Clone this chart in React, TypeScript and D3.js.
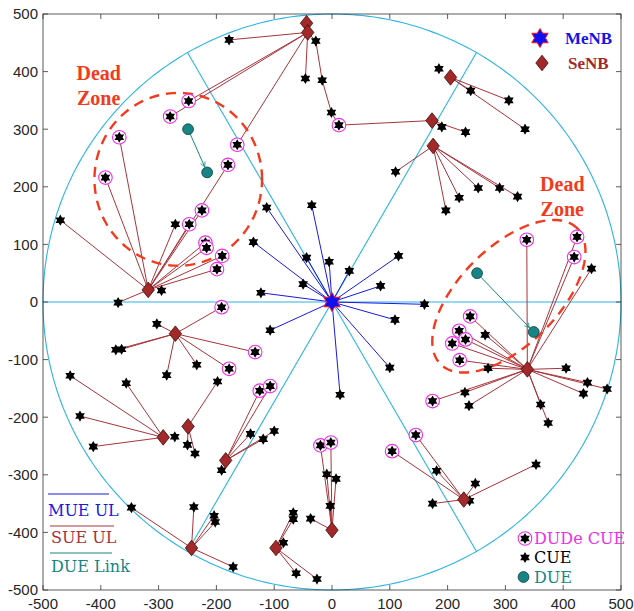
import React from 'react';
import * as d3 from 'd3';

// ---------- data ----------
const xTicks = [-500, -400, -300, -200, -100, 0, 100, 200, 300, 400, 500];
const yTicks = [-500, -400, -300, -200, -100, 0, 100, 200, 300, 400, 500];
const cellRadius = 500;
const sectorAngles = [0, 60, 120, 180, 240, 300];

const menb: [number, number] = [0, 0];

// UEs served by MeNB (MUE UL, blue)
const mueList: [number, number][] = [
  [-113, 164], [-35, 168], [-136, 104], [-44, 77], [-5, 70], [30, 54], [115, 80],
  [-50, 31], [84, 28], [-123, 16], [160, -4], [109, -31], [-107, -49], [100, -114], [14, -161],
];

// SeNBs
const senbNames = ['A', 'B', 'C', 'D', 'E', 'F', 'G', 'H', 'I', 'J', 'K', 'L', 'M', 'N', 'O'];
const senbX = [-44, -42, -318, 173, 205, 175, 338, -271, -292, -249, -184, -243, -97, 228, 0];
const senbY = [484, 468, 21, 315, 390, 271, -117, -55, -235, -216, -275, -427, -427, -343, -396];

// UEs served by SeNBs: [id, x, y, kind (c = CUE, d = DUDe CUE), links ('|' separated: SeNB name or UE id)]
const sueList: [string, number, number, string, string][] = [
  // SeNB A/B (top)
  ['b1', -178, 455, 'c', 'B'],
  ['t1', -28, 453, 'c', 'B'],
  ['b2', -46, 388, 'c', 'B'],
  ['t2', -17, 385, 'c', 't1'],
  ['t3', -1, 329, 'c', 't2'],
  ['t4', 12, 307, 'd', 't3|D'],
  ['b3', -248, 349, 'd', 'B'],
  ['b4', -280, 322, 'd', 'B'],
  ['b5', -164, 273, 'd', 'B'],
  // SeNB C
  ['c1', -368, 286, 'd', 'C'],
  ['c2', -392, 216, 'd', 'C'],
  ['c3', -470, 142, 'c', 'C'],
  ['c4', -271, 135, 'c', 'C'],
  ['c5', -247, 135, 'd', 'C'],
  ['c6', -225, 159, 'd', 'C'],
  ['c7', -180, 238, 'd', 'C'],
  ['c8', -219, 103, 'd', 'C'],
  ['c9', -217, 94, 'd', 'C'],
  ['c10', -190, 80, 'd', 'C'],
  ['c11', -199, 57, 'd', 'C'],
  ['c12', -370, -1, 'c', 'C'],
  ['c13', -295, 20, 'c', ''],
  // SeNB D
  ['d1', 190, 304, 'c', 'D'],
  ['d2', 231, 295, 'c', 'D'],
  // SeNB E
  ['e0', 185, 405, 'c', ''],
  ['e1', 240, 367, 'c', 'E'],
  ['e2', 306, 350, 'c', 'E'],
  ['e3', 334, 300, 'c', 'E'],
  // SeNB F
  ['f1', 110, 226, 'c', 'F'],
  ['f2', 220, 181, 'c', 'F'],
  ['f3', 197, 159, 'c', 'F'],
  ['f4', 253, 198, 'c', 'F'],
  ['f5', 290, 198, 'c', 'F'],
  ['f6', 321, 183, 'c', 'F'],
  // SeNB G
  ['g1', 337, 108, 'd', 'G'],
  ['g2', 424, 113, 'd', 'G'],
  ['g3', 419, 78, 'd', 'G'],
  ['g4', 449, 58, 'c', 'G'],
  ['g5', 239, -25, 'd', 'G'],
  ['g6', 220, -50, 'd', 'G'],
  ['g7', 231, -65, 'd', 'G'],
  ['g8', 208, -72, 'd', 'G'],
  ['g9', 265, -57, 'c', 'G'],
  ['g10', 221, -101, 'd', 'G'],
  ['g11', 270, -115, 'c', 'G'],
  ['g12', 405, -115, 'c', 'G'],
  ['g13', 442, -140, 'c', 'G'],
  ['g14', 435, -159, 'c', 'G'],
  ['g15', 476, -151, 'c', 'G'],
  ['g16', 230, -157, 'c', 'G'],
  ['g17', 174, -172, 'd', 'G'],
  ['g18', 237, -180, 'c', 'G'],
  ['g19', 361, -178, 'c', 'G'],
  ['g20', 374, -210, 'c', 'G'],
  // SeNB H
  ['h1', -191, -9, 'd', 'H'],
  ['h2', -303, -38, 'c', 'H'],
  ['h3', -374, -83, 'c', 'H'],
  ['h4', -364, -82, 'c', 'H'],
  ['h5', -133, -87, 'd', 'H'],
  ['h6', -234, -109, 'c', 'H'],
  ['h7', -178, -116, 'd', 'H'],
  ['h8', -286, -127, 'c', 'H'],
  // SeNB I
  ['i1', -453, -128, 'c', 'I'],
  ['i2', -356, -141, 'c', 'I'],
  ['i3', -436, -198, 'c', 'I'],
  ['i4', -413, -251, 'c', 'I'],
  ['i5', -272, -234, 'c', ''],
  // SeNB J
  ['j1', -198, -138, 'c', 'J'],
  ['j2', -250, -248, 'c', 'J'],
  ['j3', -237, -263, 'c', 'J'],
  // SeNB K
  ['k1', -125, -154, 'd', 'K'],
  ['k2', -107, -146, 'd', 'K'],
  ['k3', -141, -229, 'c', 'K'],
  ['k4', -119, -238, 'c', 'K'],
  ['k5', -100, -224, 'c', 'K'],
  ['k6', -191, -292, 'c', ''],
  // SeNB L
  ['l1', -347, -357, 'c', 'L'],
  ['l2', -239, -356, 'c', 'L'],
  ['l3', -204, -371, 'c', 'L'],
  ['l4', -202, -382, 'c', 'L'],
  ['l5', -171, -460, 'c', 'L'],
  // SeNB M
  ['m0', -84, -418, 'c', ''],
  ['m1', -67, -366, 'c', 'M'],
  ['m2', -67, -377, 'c', 'M'],
  ['m3', -62, -471, 'c', 'M'],
  ['m4', -26, -481, 'c', 'M'],
  // SeNB O
  ['o1', -20, -249, 'd', 'O'],
  ['o2', -2, -244, 'd', 'O'],
  ['o3', -9, -299, 'c', 'O'],
  ['o4', 7, -307, 'c', 'O'],
  ['o5', -3, -354, 'c', 'O'],
  ['o6', -37, -376, 'c', 'O'],
  // SeNB N
  ['n1', 145, -231, 'd', 'N'],
  ['n2', 104, -259, 'd', 'N'],
  ['n3', 181, -293, 'c', 'N'],
  ['n4', 248, -315, 'c', 'N'],
  ['n5', 353, -282, 'c', 'N'],
  ['n6', 174, -350, 'c', 'N'],
  ['n7', 238, -345, 'c', ''],
];

// D2D pairs (DUE Link): [x1, y1, x2, y2]
const duePairs: [number, number, number, number][] = [
  [-249, 300, -216, 225],
  [251, 50, 349, -52],
];

// Dead zones: [cx, cy, rx, ry, rotation deg]
const deadZones: [number, number, number, number, number][] = [
  [-266, 213, 145, 150, 0],
  [306, 10, 167, 85, 45],
];
const deadZoneLabels: [number, number][] = [
  [-442, 385],
  [360, 193],
];

// ---------- styles ----------
const C_CYAN = '#2db4e2';
const C_BLUE = '#1a1adf';
const C_RED = '#a8343a';
const C_SENB = '#a3282a';
const C_TEAL = '#178585';
const C_DEAD = '#f23a1e';
const C_MAG = '#ee2ee8';
const AX = '#333333';

const hexagram = (R: number) => {
  const r = R / Math.sqrt(3);
  const pts: [number, number][] = [];
  for (let k = 0; k < 12; k++) {
    const a = (k * 30 - 90) * Math.PI / 180;
    const rr = k % 2 === 0 ? R : r;
    pts.push([rr * Math.cos(a), rr * Math.sin(a)]);
  }
  return 'M' + pts.map(p => p[0].toFixed(2) + ',' + p[1].toFixed(2)).join('L') + 'Z';
};
const diamond = (hw: number, hh: number) => `M0,${-hh}L${hw},0L0,${hh}L${-hw},0Z`;

const STAR = hexagram(5.6);
const BIGSTAR = hexagram(9.5);
const DIAMOND = diamond(6.2, 7.8);

export default function App() {
  const left = 43, right = 621, top = 14, bottom = 590;
  const x = d3.scaleLinear().domain([-500, 500]).range([left, right]);
  const y = d3.scaleLinear().domain([-500, 500]).range([bottom, top]);

  const senbPos: Record<string, [number, number]> = {};
  senbNames.forEach((n, i) => { senbPos[n] = [senbX[i], senbY[i]]; });
  const uePos: Record<string, [number, number]> = {};
  sueList.forEach(u => { uePos[u[0]] = [u[1], u[2]]; });

  const redLinks: [number, number, number, number][] = [];
  sueList.forEach(u => {
    if (!u[4]) return;
    u[4].split('|').forEach(t => {
      const p = senbPos[t] || uePos[t];
      if (p) redLinks.push([u[1], u[2], p[0], p[1]]);
    });
  });

  const circlePath = d3.line<number>()
    .x(t => x(cellRadius * Math.cos(t)))
    .y(t => y(cellRadius * Math.sin(t)))
    .curve(d3.curveLinearClosed)(d3.range(0, 2 * Math.PI, Math.PI / 180));

  const ellipsePath = (z: [number, number, number, number, number]) => {
    const [cx, cy, rx, ry, rot] = z;
    const th = rot * Math.PI / 180;
    return d3.line<number>()
      .x(t => x(cx + rx * Math.cos(t) * Math.cos(th) - ry * Math.sin(t) * Math.sin(th)))
      .y(t => y(cy + rx * Math.cos(t) * Math.sin(th) + ry * Math.sin(t) * Math.cos(th)))
      .curve(d3.curveLinearClosed)(d3.range(0, 2 * Math.PI, Math.PI / 90));
  };

  const tickLen = 5;
  const sans = '"Liberation Sans", Arial, Helvetica, sans-serif';
  const serif = '"Liberation Serif", "Times New Roman", serif';
  const serif2 = '"DejaVu Serif", "Liberation Serif", serif';

  return (
    <svg width={634} height={611} style={{ position: 'absolute', left: 0, top: 0, background: '#fff' }}>
      <defs>
        <marker id="arr" viewBox="0 0 10 10" refX="9" refY="5" markerWidth="6" markerHeight="6" orient="auto">
          <path d="M1,1L9,5L1,9" fill="none" stroke={C_TEAL} strokeWidth={1.3} />
        </marker>
      </defs>

      {/* cell boundary */}
      <path d={circlePath || ''} fill="none" stroke={C_CYAN} strokeWidth={1.1} />
      {sectorAngles.map(a => (
        <line key={a} x1={x(0)} y1={y(0)}
          x2={x(cellRadius * Math.cos(a * Math.PI / 180))}
          y2={y(cellRadius * Math.sin(a * Math.PI / 180))}
          stroke={C_CYAN} strokeWidth={1.1} />
      ))}

      {/* MUE UL links */}
      {mueList.map((p, i) => (
        <line key={'m' + i} x1={x(p[0])} y1={y(p[1])} x2={x(menb[0])} y2={y(menb[1])}
          stroke={C_BLUE} strokeWidth={1} />
      ))}
      {/* SUE UL links */}
      {redLinks.map((l, i) => (
        <line key={'r' + i} x1={x(l[0])} y1={y(l[1])} x2={x(l[2])} y2={y(l[3])}
          stroke={C_RED} strokeWidth={1} />
      ))}
      {/* DUE links */}
      {duePairs.map((d, i) => {
        const x1 = x(d[0]), y1 = y(d[1]), x2 = x(d[2]), y2 = y(d[3]);
        const L = Math.hypot(x2 - x1, y2 - y1);
        const k = (L - 6) / L;
        return (
          <line key={'d' + i} x1={x1} y1={y1} x2={x1 + (x2 - x1) * k} y2={y1 + (y2 - y1) * k}
            stroke={C_TEAL} strokeWidth={1} markerEnd="url(#arr)" />
        );
      })}

      {/* dead zones */}
      {deadZones.map((z, i) => (
        <path key={'z' + i} d={ellipsePath(z) || ''} fill="none" stroke={C_DEAD}
          strokeWidth={2.4} strokeDasharray="10,7" />
      ))}

      {/* UE markers */}
      {mueList.map((p, i) => (
        <path key={'ms' + i} d={STAR} transform={`translate(${x(p[0])},${y(p[1])})`} fill="#000" />
      ))}
      {sueList.map(u => (
        <g key={u[0]} transform={`translate(${x(u[1])},${y(u[2])})`}>
          {u[3] === 'd' && <circle r={6.8} fill="#fff" stroke={C_MAG} strokeWidth={1.1} />}
          <path d={STAR} fill="#000" />
        </g>
      ))}
      {duePairs.map((d, i) => (
        <g key={'due' + i}>
          <circle cx={x(d[0])} cy={y(d[1])} r={5.4} fill={C_TEAL} stroke="#0b3b3b" strokeWidth={0.8} />
          <circle cx={x(d[2])} cy={y(d[3])} r={5.4} fill={C_TEAL} stroke="#0b3b3b" strokeWidth={0.8} />
        </g>
      ))}

      {/* SeNBs */}
      {senbNames.map((n, i) => (
        <path key={n} d={DIAMOND} transform={`translate(${x(senbX[i])},${y(senbY[i])})`}
          fill={C_SENB} stroke="#3b0c0c" strokeWidth={0.8} />
      ))}
      {/* MeNB */}
      <path d={BIGSTAR} transform={`translate(${x(menb[0])},${y(menb[1])})`} fill="#1010f0" stroke="#ff1a1a" strokeWidth={1} />

      {/* Dead zone labels */}
      {deadZoneLabels.map((p, i) => (
        <text key={'dz' + i} x={x(p[0])} y={y(p[1])} fill={C_DEAD} fontFamily={serif}
          fontWeight="bold" fontSize={20}>
          <tspan x={x(p[0])}>Dead</tspan>
          <tspan x={x(p[0]) + 0.5} dy={25}>Zone</tspan>
        </text>
      ))}

      {/* axes box */}
      <rect x={left} y={top} width={right - left} height={bottom - top} fill="none" stroke={AX} strokeWidth={0.8} />
      {xTicks.map(t => (
        <g key={'xt' + t}>
          <line x1={x(t)} x2={x(t)} y1={bottom} y2={bottom - tickLen} stroke={AX} strokeWidth={0.8} />
          <line x1={x(t)} x2={x(t)} y1={top} y2={top + tickLen} stroke={AX} strokeWidth={0.8} />
          <text x={x(t)} y={bottom + 19} textAnchor="middle" fontFamily={sans} fontSize={15} fill="#262626">{t}</text>
        </g>
      ))}
      {yTicks.map(t => (
        <g key={'yt' + t}>
          <line x1={left} x2={left + tickLen} y1={y(t)} y2={y(t)} stroke={AX} strokeWidth={0.8} />
          <line x1={right} x2={right - tickLen} y1={y(t)} y2={y(t)} stroke={AX} strokeWidth={0.8} />
          <text x={left - 5} y={y(t) + 5.3} textAnchor="end" fontFamily={sans} fontSize={15} fill="#262626">{t}</text>
        </g>
      ))}

      {/* legend top-right */}
      <path d={BIGSTAR} transform="translate(540,38)" fill="#1010f0" stroke="#ff1a1a" strokeWidth={1} />
      <text x={565} y={44} fontFamily={serif} fontWeight="bold" fontSize={17} fill="#1414e6">MeNB</text>
      <path d={DIAMOND} transform="translate(542,63)" fill={C_SENB} stroke="#3b0c0c" strokeWidth={0.8} />
      <text x={568} y={69} fontFamily={serif} fontWeight="bold" fontSize={17} fill={C_SENB}>SeNB</text>

      {/* legend bottom-left */}
      <line x1={48} x2={109} y1={494} y2={494} stroke={C_BLUE} strokeWidth={1.2} />
      <text x={48} y={516} fontFamily={serif2} fontSize={16} fill={C_BLUE}>MUE UL</text>
      <line x1={50} x2={114} y1={526} y2={526} stroke={C_RED} strokeWidth={1.2} />
      <text x={51} y={543} fontFamily={serif2} fontSize={16} fill={C_RED}>SUE UL</text>
      <line x1={50} x2={112} y1={553} y2={553} stroke={C_TEAL} strokeWidth={1.2} />
      <text x={51} y={572} fontFamily={serif2} fontSize={16} fill={C_TEAL}>DUE Link</text>

      {/* legend bottom-right */}
      <g transform="translate(525,538.5)">
        <circle r={6.8} fill="#fff" stroke={C_MAG} strokeWidth={1.1} />
        <path d={STAR} fill="#000" />
      </g>
      <text x={534} y={544} fontFamily={serif2} fontSize={16} fill={C_MAG}>DUDe CUE</text>
      <path d={STAR} transform="translate(525,557.5)" fill="#000" />
      <text x={534} y={563} fontFamily={serif2} fontSize={16} fill="#000">CUE</text>
      <circle cx={523.5} cy={577} r={5.4} fill={C_TEAL} stroke="#0b3b3b" strokeWidth={0.8} />
      <text x={534} y={582.5} fontFamily={serif2} fontSize={16} fill={C_TEAL}>DUE</text>
    </svg>
  );
}
